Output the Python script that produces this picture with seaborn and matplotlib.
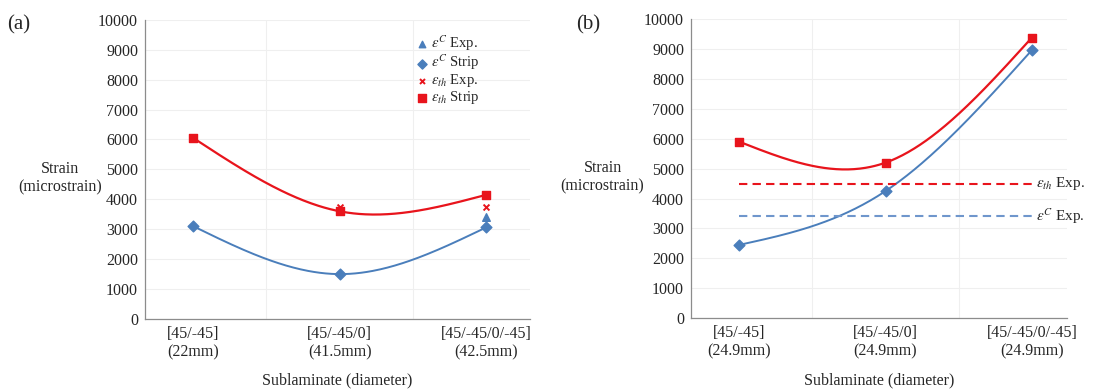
import numpy as np
import pandas as pd
import matplotlib
matplotlib.use("Agg")
import matplotlib.pyplot as plt
from matplotlib.ticker import MultipleLocator
import seaborn as sns

# ---- data ----
labels_a = ["[45/-45]\n(22mm)", "[45/-45/0]\n(41.5mm)", "[45/-45/0/-45]\n(42.5mm)"]
labels_b = ["[45/-45]\n(24.9mm)", "[45/-45/0]\n(24.9mm)", "[45/-45/0/-45]\n(24.9mm)"]

a_c_strip = [3100, 1500, 3060]
a_th_strip = [6050, 3600, 4150]
a_c_exp = [np.nan, np.nan, 3400]
a_th_exp = [np.nan, 3740, 3740]

b_c_strip = [2450, 4250, 8960]
b_th_strip = [5900, 5200, 9380]
b_c_exp = 3400
b_th_exp = 4500

BLUE = "#4a7ebb"
RED = "#e8141c"

sns.set_style("white")
plt.rcParams["font.family"] = ["Liberation Serif", "DejaVu Serif"]
plt.rcParams["mathtext.fontset"] = "stix"


def natural_spline(ys, n=200):
    """Natural cubic spline through equally spaced points (for the smoothed lines)."""
    ys = np.asarray(ys, float)
    k = len(ys)
    A = np.zeros((k, k))
    r = np.zeros(k)
    A[0, 0] = A[-1, -1] = 1
    for i in range(1, k - 1):
        A[i, i - 1:i + 2] = [1, 4, 1]
        r[i] = 6 * (ys[i - 1] - 2 * ys[i] + ys[i + 1])
    M = np.linalg.solve(A, r)
    xs = np.linspace(0, k - 1, n)
    out = []
    for x in xs:
        i = min(int(x), k - 2)
        t = x - i
        v = (ys[i] * (1 - t) + ys[i + 1] * t
             + M[i] / 6 * ((1 - t) ** 3 - (1 - t))
             + M[i + 1] / 6 * (t ** 3 - t))
        out.append(v)
    return pd.DataFrame({"x": xs, "y": out})


def style_axes(ax, labels, xmax):
    ax.set_xlim(-0.33, xmax)
    ax.set_ylim(0, 10000)
    ax.set_xticks(range(3))
    ax.set_xticklabels(labels, fontsize=11.5, linespacing=1.2)
    ax.set_xticks([0.5, 1.5], minor=True)
    ax.yaxis.set_major_locator(MultipleLocator(1000))
    ax.yaxis.set_minor_locator(MultipleLocator(500))
    ax.tick_params(axis="y", labelsize=11.5, direction="out", length=3,
                   color="#999999", pad=2)
    ax.tick_params(axis="y", which="minor", direction="out", length=2, color="#aaaaaa")
    ax.tick_params(axis="x", which="major", length=4, color="#999999", pad=1)
    ax.tick_params(axis="x", which="minor", length=3, color="#aaaaaa")
    ax.grid(True, axis="y", which="major", color="#efefef", lw=0.8)
    ax.grid(True, axis="x", which="minor", color="#efefef", lw=0.8)
    for s in ["top", "right"]:
        ax.spines[s].set_visible(False)
    for s in ["left", "bottom"]:
        ax.spines[s].set_color("#8c8c8c")
        ax.spines[s].set_linewidth(0.9)
    ax.set_xlabel("Sublaminate (diameter)", fontsize=11.5, labelpad=9)
    ax.set_ylabel("Strain\n(microstrain)", fontsize=11.5, rotation=0,
                  ha="center", va="center", labelpad=0)


fig = plt.figure(figsize=(11.17, 3.89), dpi=100)
ax1 = fig.add_axes([0.1298, 0.18, 0.3447, 0.769])
ax2 = fig.add_axes([0.6186, 0.182, 0.3366, 0.769])

cats = [0, 1, 2]

# ---- (a) ----
sns.lineplot(data=natural_spline(a_th_strip), x="x", y="y", ax=ax1, color=RED, lw=1.6)
sns.lineplot(data=natural_spline(a_c_strip), x="x", y="y", ax=ax1, color=BLUE, lw=1.4)
ax1.scatter(cats, a_c_exp, marker="^", s=30, color=BLUE, zorder=4, label=r"$\varepsilon^C$ Exp.")
ax1.scatter(cats, a_c_strip, marker="D", s=30, color=BLUE, zorder=4, label=r"$\varepsilon^C$ Strip")
ax1.scatter(cats, a_th_exp, marker="x", s=18, color=RED, lw=1.4, zorder=4, label=r"$\varepsilon_{th}$ Exp.")
ax1.scatter(cats, a_th_strip, marker="s", s=36, color=RED, zorder=5, label=r"$\varepsilon_{th}$ Strip")
style_axes(ax1, labels_a, 2.3)
ax1.yaxis.set_label_coords(-0.22, 0.47)
leg = ax1.legend(loc="upper left", bbox_to_anchor=(0.695, 0.975), frameon=False, fontsize=10.5,
                 handlelength=0.5, handletextpad=0.35, labelspacing=0.0, borderaxespad=0,
                 markerscale=0.85)

# ---- (b) ----
sns.lineplot(data=natural_spline(b_th_strip), x="x", y="y", ax=ax2, color=RED, lw=1.6)
sns.lineplot(data=natural_spline(b_c_strip), x="x", y="y", ax=ax2, color=BLUE, lw=1.4)
ax2.plot([0, 2], [b_th_exp, b_th_exp], ls=(0, (4, 2.5)), color=RED, lw=1.5)
ax2.plot([0, 2], [b_c_exp, b_c_exp], ls=(0, (4, 2.5)), color="#6f96cc", lw=1.5)
ax2.scatter(cats, b_c_strip, marker="D", s=30, color=BLUE, zorder=4)
ax2.scatter(cats, b_th_strip, marker="s", s=36, color=RED, zorder=5)
ax2.text(2.03, b_th_exp, r"$\varepsilon_{th}$ Exp.", fontsize=11, va="center", ha="left", clip_on=False)
ax2.text(2.03, b_c_exp, r"$\varepsilon^C$ Exp.", fontsize=11, va="center", ha="left", clip_on=False)
style_axes(ax2, labels_b, 2.24)
ax2.yaxis.set_label_coords(-0.235, 0.47)

fig.text(0.006, 0.935, "(a)", fontsize=15, va="center", ha="left")
fig.text(0.516, 0.935, "(b)", fontsize=15, va="center", ha="left")

fig.savefig("out.png", dpi=100)
